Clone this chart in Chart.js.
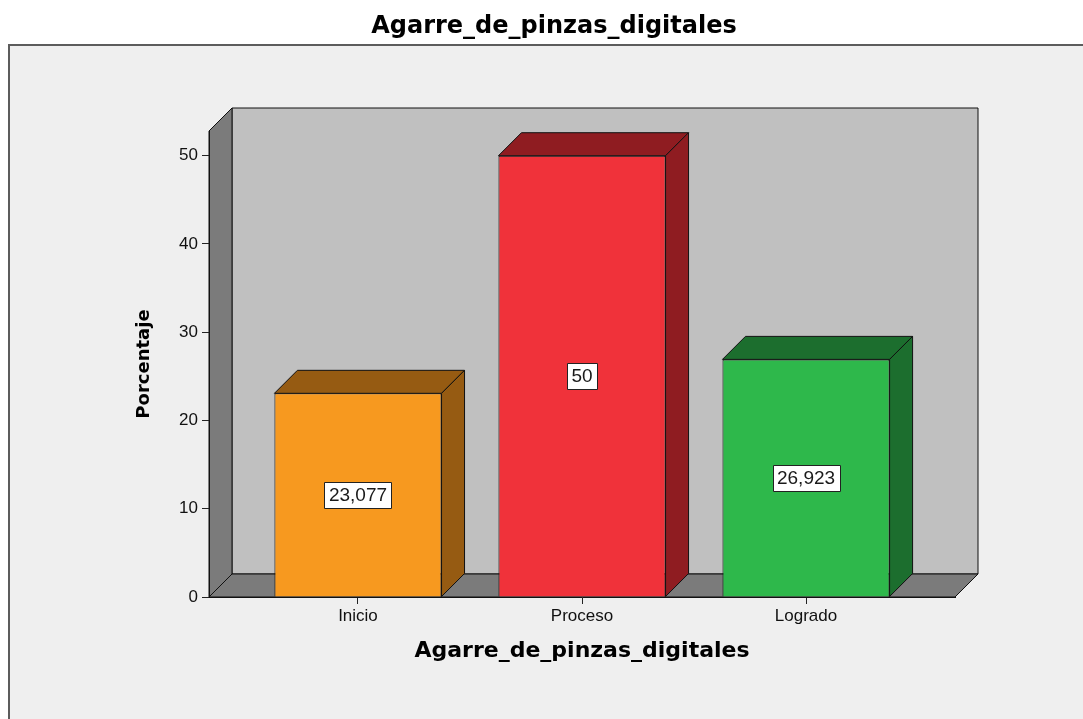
<!DOCTYPE html>
<html>
<head>
<meta charset="utf-8">
<script src="https://cdn.jsdelivr.net/npm/chart.js@4.4.1/dist/chart.umd.min.js"></script>
<style>
  html, body { margin: 0; padding: 0; background: #fff; }
  #wrap { width: 1083px; height: 719px; }
</style>
</head>
<body>
<div id="wrap"><canvas id="grafico"></canvas></div>
<script>
const titulo = 'Agarre_de_pinzas_digitales';
const categorias = ['Inicio', 'Proceso', 'Logrado'];
const porcentajes = [23.077, 50, 26.923];
const coloresFrente = ['#f7991f', '#f0323a', '#2eb84b'];
const coloresLado = ['#965b12', '#8f1c21', '#1c6e2e'];

// profundidad del efecto 3D (px)
const DX = 23, DY = 23;

function poligono(ctx, pts, relleno) {
    ctx.beginPath();
    ctx.moveTo(pts[0][0], pts[0][1]);
    for (let i = 1; i < pts.length; i++) ctx.lineTo(pts[i][0], pts[i][1]);
    ctx.closePath();
    ctx.fillStyle = relleno;
    ctx.fill();
    ctx.stroke();
}

const fondo3d = {
    id: 'fondo3d',
    beforeDraw(chart) {
        const ctx = chart.ctx;
        const xs = chart.scales.x, ys = chart.scales.y;
        ctx.save();
        ctx.fillStyle = '#fff';
        ctx.fillRect(0, 0, chart.width, chart.height);
        // panel gris
        ctx.fillStyle = '#efefef';
        ctx.fillRect(9, 45, chart.width, chart.height);
        ctx.strokeStyle = '#5c5c5c';
        ctx.lineWidth = 2;
        ctx.strokeRect(9, 45, chart.width + 20, chart.height + 20);

        // titulo principal
        ctx.fillStyle = '#000';
        ctx.font = 'bold 24px "DejaVu Sans"';
        ctx.textAlign = 'center';
        ctx.textBaseline = 'middle';
        ctx.fillText(titulo, 554, 27);

        const l = xs.left, r = xs.right, t = ys.top, b = ys.getPixelForValue(0);
        ctx.lineWidth = 1;
        ctx.strokeStyle = '#111';
        ctx.lineJoin = 'round';
        poligono(ctx, [[l + DX, t - DY], [r + DX, t - DY], [r + DX, b - DY], [l + DX, b - DY]], '#c0c0c0');
        poligono(ctx, [[l, b], [l, t], [l + DX, t - DY], [l + DX, b - DY]], '#7b7b7b');
        poligono(ctx, [[l, b], [r, b], [r + DX, b - DY], [l + DX, b - DY]], '#7b7b7b');
        ctx.restore();
    },
    afterDatasetsDraw(chart) {
        const ctx = chart.ctx;
        const meta = chart.getDatasetMeta(0);
        ctx.save();
        ctx.lineWidth = 1;
        ctx.strokeStyle = '#111';
        ctx.lineJoin = 'round';
        meta.data.forEach((bar, i) => {
            const l = bar.x - bar.width / 2, r = bar.x + bar.width / 2;
            const t = bar.y, b = bar.base;
            poligono(ctx, [[l, t], [l + DX, t - DY], [r + DX, t - DY], [r, t]], coloresLado[i]);
            poligono(ctx, [[r, t], [r + DX, t - DY], [r + DX, b - DY], [r, b]], coloresLado[i]);
        });
        // etiquetas de valor
        ctx.font = '19px "Liberation Sans"';
        ctx.textAlign = 'center';
        ctx.textBaseline = 'middle';
        meta.data.forEach((bar, i) => {
            const txt = String(porcentajes[i]).replace('.', ',');
            const cy = (bar.y + bar.base) / 2;
            const w = Math.round(ctx.measureText(txt).width + 9), h = 26;
            const bx = Math.round(bar.x - w / 2) + 0.5, by = Math.round(cy - h / 2) + 0.5;
            ctx.fillStyle = '#fff';
            ctx.fillRect(bx, by, w, h);
            ctx.strokeStyle = '#222';
            ctx.strokeRect(bx, by, w, h);
            ctx.fillStyle = '#1a1a1a';
            ctx.fillText(txt, bar.x, cy + 1);
        });
        ctx.restore();
    }
};

const config = {
    type: 'bar',
    data: {
        datasets: [{
            data: porcentajes.map((v, i) => ({ x: i, y: v })),
            backgroundColor: coloresFrente,
            borderColor: '#111',
            borderWidth: 1,
            barPercentage: 0.746,
            categoryPercentage: 1
        }]
    },
    options: {
        responsive: true,
        maintainAspectRatio: false,
        devicePixelRatio: 1,
        animation: false,
        layout: { padding: { top: 131, left: 0, right: 128, bottom: 0 } },
        plugins: {
            legend: { display: false },
            tooltip: { enabled: false },
            title: { display: false }
        },
        scales: {
            x: {
                type: 'linear',
                offset: false,
                min: -0.665,
                max: 2.665,
                afterBuildTicks: s => { s.ticks = categorias.map((c, i) => ({ value: i })); },
                afterFit: s => { s.height = 122; },
                ticks: {
                    callback: v => categorias[v],
                    color: '#111',
                    font: { family: 'Liberation Sans', size: 17 },
                    padding: 2,
                    autoSkip: false,
                    maxRotation: 0
                },
                grid: { offset: false, drawOnChartArea: false, drawTicks: true, tickLength: 7, color: '#222' },
                border: { display: true, color: '#111' },
                title: {
                    display: true,
                    text: titulo,
                    color: '#000',
                    font: { family: 'DejaVu Sans', size: 22, weight: 'bold' },
                    padding: 55
                }
            },
            y: {
                min: 0,
                max: 52.8,
                afterFit: s => { s.width = 209; },
                ticks: {
                    stepSize: 10,
                    includeBounds: false,
                    color: '#111',
                    font: { family: 'Liberation Sans', size: 17 },
                    padding: 4
                },
                grid: { drawOnChartArea: false, drawTicks: true, tickLength: 7, color: '#222' },
                border: { display: true, color: '#111' },
                title: {
                    display: true,
                    text: 'Porcentaje',
                    color: '#000',
                    font: { family: 'DejaVu Sans', size: 18, weight: 'bold' },
                    padding: 134
                }
            }
        }
    },
    plugins: [fondo3d]
};

const grafico = new Chart(document.getElementById('grafico').getContext('2d'), config);
</script>
</body>
</html>
